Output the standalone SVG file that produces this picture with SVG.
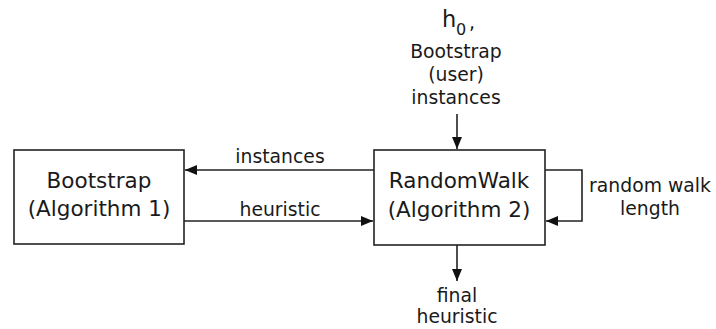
<svg xmlns="http://www.w3.org/2000/svg" width="716" height="329" viewBox="0 0 716 329">
<style>
text{font-family:"DejaVu Sans",Verdana,sans-serif;fill:#1a1a1a;text-anchor:middle}
.node{font-size:21.5px}
.lbl{font-size:18.8px}
.box{fill:#fff;stroke:#222;stroke-width:1.6}
.edge{fill:none;stroke:#222;stroke-width:1.6}
</style>
<defs>
<marker id="ah" viewBox="0 0 12 10" refX="12" refY="5" markerWidth="12" markerHeight="10" markerUnits="userSpaceOnUse" orient="auto">
<path d="M0,0 L12,5 L0,10 Z" fill="#111"/>
</marker>
</defs>
<rect width="716" height="329" fill="#fff"/>
<g id="connectors">
<line class="edge" x1="374" y1="170" x2="185" y2="170" marker-end="url(#ah)"/>
<line class="edge" x1="184" y1="221" x2="373" y2="221" marker-end="url(#ah)"/>
<polyline class="edge" points="545,170 582,170 582,221 546,221" marker-end="url(#ah)"/>
<line class="edge" x1="457" y1="114" x2="457" y2="149" marker-end="url(#ah)"/>
<line class="edge" x1="457" y1="245" x2="457" y2="281" marker-end="url(#ah)"/>
<text class="lbl" x="280" y="163">instances</text>
<text class="lbl" x="280" y="216">heuristic</text>
<text class="lbl" x="650" y="192">random walk</text>
<text class="lbl" x="650" y="215">length</text>
<text class="lbl" x="457" y="302">final</text>
<text class="lbl" x="457" y="323">heuristic</text>
<text x="442" y="27" style="font-size:22.5px;text-anchor:start">h</text>
<text x="456" y="35" style="font-size:16px;text-anchor:start">0</text>
<text x="469" y="29" style="font-size:19px;text-anchor:start">,</text>
<text class="lbl" x="456" y="58">Bootstrap</text>
<text class="lbl" x="456" y="81">(user)</text>
<text class="lbl" x="456" y="104">instances</text>
</g>
<g id="bootstrap">
<rect class="box" x="14" y="150" width="170" height="94"/>
<text class="node" x="99" y="187.5">Bootstrap</text>
<text class="node" x="99" y="216">(Algorithm 1)</text>
</g>
<g id="randomwalk">
<rect class="box" x="374" y="150" width="171" height="95"/>
<text class="node" x="459" y="188">RandomWalk</text>
<text class="node" x="459" y="217">(Algorithm 2)</text>
</g>
</svg>
